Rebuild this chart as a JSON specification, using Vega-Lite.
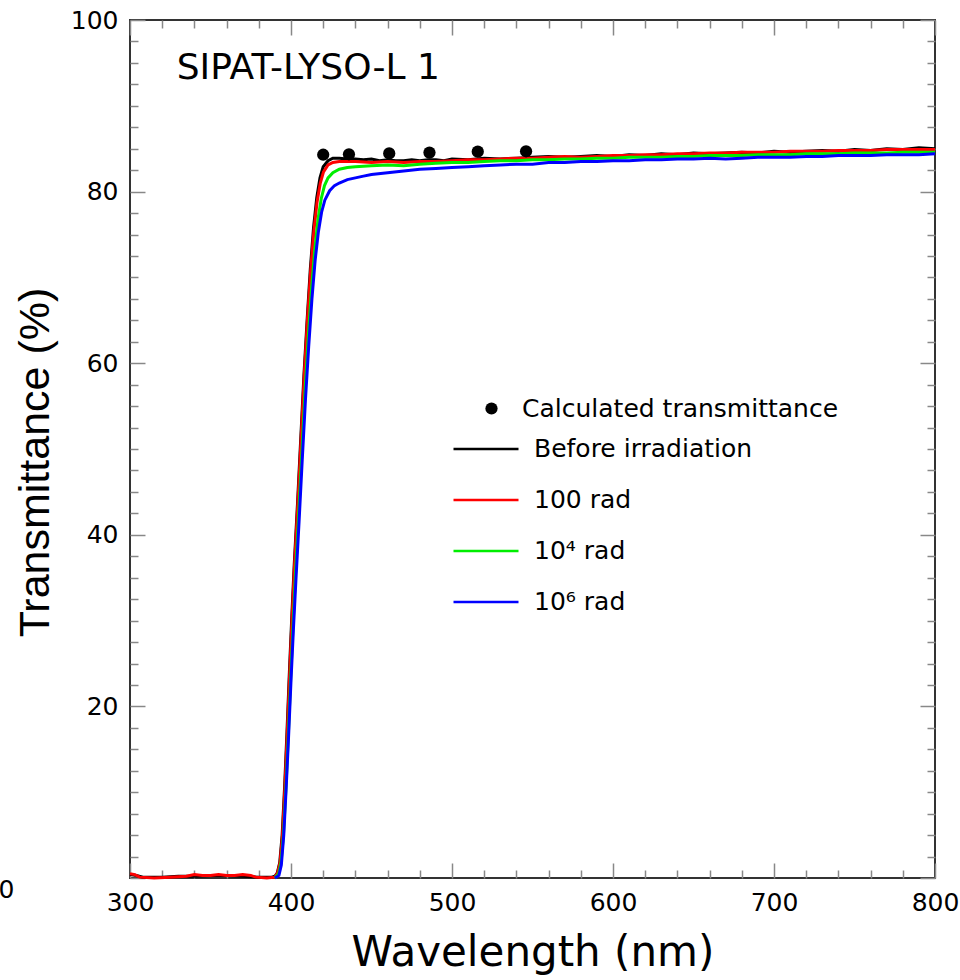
{
  "$schema": "https://vega.github.io/schema/vega-lite/v6.json",
  "width": 805,
  "height": 858,
  "autosize": {"type": "none"},
  "padding": {"left": 130, "top": 20, "right": 25, "bottom": 102},
  "background": "white",
  "config": {
    "font": "DejaVu Sans",
    "view": {"stroke": "#333", "strokeWidth": 2},
    "axis": {"grid": false, "domain": false, "tickColor": "#888", "tickWidth": 1.5, "labelFont": "DejaVu Sans", "labelFontSize": 25, "labelColor": "#000", "labelFlush": false, "labelOverlap": false, "titleColor": "#000", "titleFontWeight": "normal"},
    "legend": {"labelFont": "DejaVu Sans", "labelFontSize": 25, "labelColor": "#000", "labelLimit": 0, "padding": 0}
  },
  "datasets": {
    "lines": [
      {"s":"Before irradiation","w":300,"t":0.4},{"s":"Before irradiation","w":304,"t":0.3},{"s":"Before irradiation","w":308,"t":0.1},{"s":"Before irradiation","w":312,"t":0.1},{"s":"Before irradiation","w":320,"t":0.1},{"s":"Before irradiation","w":330,"t":0.2},{"s":"Before irradiation","w":340,"t":0.2},{"s":"Before irradiation","w":350,"t":0.3},{"s":"Before irradiation","w":360,"t":0.3},{"s":"Before irradiation","w":370,"t":0.2},{"s":"Before irradiation","w":380,"t":0.1},{"s":"Before irradiation","w":388,"t":0.1},{"s":"Before irradiation","w":390,"t":0.2},{"s":"Before irradiation","w":391.5,"t":0.6},{"s":"Before irradiation","w":393,"t":1.8},{"s":"Before irradiation","w":394.5,"t":5},{"s":"Before irradiation","w":396,"t":10.5},{"s":"Before irradiation","w":397.5,"t":17},{"s":"Before irradiation","w":399,"t":24},{"s":"Before irradiation","w":400.5,"t":30.5},{"s":"Before irradiation","w":402,"t":36.5},{"s":"Before irradiation","w":404,"t":43.5},{"s":"Before irradiation","w":406,"t":51},{"s":"Before irradiation","w":408,"t":58.5},{"s":"Before irradiation","w":410,"t":65},{"s":"Before irradiation","w":412,"t":71},{"s":"Before irradiation","w":414,"t":75.8},{"s":"Before irradiation","w":416,"t":79.3},{"s":"Before irradiation","w":418,"t":81.6},{"s":"Before irradiation","w":420,"t":82.9},{"s":"Before irradiation","w":423,"t":83.6},{"s":"Before irradiation","w":426,"t":83.9},{"s":"Before irradiation","w":430,"t":83.9},{"s":"Before irradiation","w":435,"t":83.8},{"s":"Before irradiation","w":440,"t":83.8},{"s":"Before irradiation","w":445,"t":83.7},{"s":"Before irradiation","w":450,"t":83.8},{"s":"Before irradiation","w":455,"t":83.6},{"s":"Before irradiation","w":460,"t":83.7},{"s":"Before irradiation","w":465,"t":83.6},{"s":"Before irradiation","w":470,"t":83.6},{"s":"Before irradiation","w":475,"t":83.7},{"s":"Before irradiation","w":480,"t":83.6},{"s":"Before irradiation","w":485,"t":83.7},{"s":"Before irradiation","w":490,"t":83.7},{"s":"Before irradiation","w":495,"t":83.6},{"s":"Before irradiation","w":500,"t":83.8},{"s":"Before irradiation","w":510,"t":83.7},{"s":"Before irradiation","w":520,"t":83.9},{"s":"Before irradiation","w":530,"t":83.8},{"s":"Before irradiation","w":540,"t":83.9},{"s":"Before irradiation","w":550,"t":84.0},{"s":"Before irradiation","w":560,"t":84.1},{"s":"Before irradiation","w":570,"t":84.0},{"s":"Before irradiation","w":580,"t":84.1},{"s":"Before irradiation","w":590,"t":84.2},{"s":"Before irradiation","w":600,"t":84.1},{"s":"Before irradiation","w":610,"t":84.3},{"s":"Before irradiation","w":620,"t":84.2},{"s":"Before irradiation","w":630,"t":84.4},{"s":"Before irradiation","w":640,"t":84.3},{"s":"Before irradiation","w":650,"t":84.5},{"s":"Before irradiation","w":660,"t":84.4},{"s":"Before irradiation","w":670,"t":84.5},{"s":"Before irradiation","w":680,"t":84.6},{"s":"Before irradiation","w":690,"t":84.5},{"s":"Before irradiation","w":700,"t":84.7},{"s":"Before irradiation","w":710,"t":84.6},{"s":"Before irradiation","w":720,"t":84.7},{"s":"Before irradiation","w":730,"t":84.8},{"s":"Before irradiation","w":740,"t":84.7},{"s":"Before irradiation","w":750,"t":84.9},{"s":"Before irradiation","w":760,"t":84.8},{"s":"Before irradiation","w":770,"t":85.0},{"s":"Before irradiation","w":780,"t":84.9},{"s":"Before irradiation","w":790,"t":85.1},{"s":"Before irradiation","w":800,"t":85.0},

      {"s":"100 rad","w":300,"t":0.5},{"s":"100 rad","w":303,"t":0.4},{"s":"100 rad","w":306,"t":0.1},{"s":"100 rad","w":315,"t":0.0},{"s":"100 rad","w":325,"t":0.1},{"s":"100 rad","w":335,"t":0.2},{"s":"100 rad","w":340,"t":0.4},{"s":"100 rad","w":345,"t":0.3},{"s":"100 rad","w":350,"t":0.3},{"s":"100 rad","w":355,"t":0.4},{"s":"100 rad","w":360,"t":0.3},{"s":"100 rad","w":365,"t":0.3},{"s":"100 rad","w":370,"t":0.4},{"s":"100 rad","w":375,"t":0.3},{"s":"100 rad","w":378,"t":0.1},{"s":"100 rad","w":385,"t":0.0},{"s":"100 rad","w":390,"t":0.1},{"s":"100 rad","w":391.7,"t":0.6},{"s":"100 rad","w":393.2,"t":1.8},{"s":"100 rad","w":394.7,"t":5},{"s":"100 rad","w":396.2,"t":10.5},{"s":"100 rad","w":397.7,"t":17},{"s":"100 rad","w":399.2,"t":24},{"s":"100 rad","w":400.7,"t":30.5},{"s":"100 rad","w":402.2,"t":36.5},{"s":"100 rad","w":404.2,"t":43.5},{"s":"100 rad","w":406.2,"t":51},{"s":"100 rad","w":408.2,"t":58.5},{"s":"100 rad","w":410.2,"t":65},{"s":"100 rad","w":412.2,"t":70.8},{"s":"100 rad","w":414.2,"t":75.4},{"s":"100 rad","w":416.2,"t":78.8},{"s":"100 rad","w":418.2,"t":81.0},{"s":"100 rad","w":420.2,"t":82.3},{"s":"100 rad","w":423,"t":83.1},{"s":"100 rad","w":426,"t":83.4},{"s":"100 rad","w":430,"t":83.5},{"s":"100 rad","w":440,"t":83.5},{"s":"100 rad","w":450,"t":83.4},{"s":"100 rad","w":460,"t":83.5},{"s":"100 rad","w":470,"t":83.4},{"s":"100 rad","w":480,"t":83.5},{"s":"100 rad","w":490,"t":83.5},{"s":"100 rad","w":500,"t":83.6},{"s":"100 rad","w":510,"t":83.7},{"s":"100 rad","w":520,"t":83.7},{"s":"100 rad","w":530,"t":83.8},{"s":"100 rad","w":540,"t":83.9},{"s":"100 rad","w":550,"t":83.9},{"s":"100 rad","w":560,"t":84.0},{"s":"100 rad","w":570,"t":84.1},{"s":"100 rad","w":580,"t":84.0},{"s":"100 rad","w":590,"t":84.1},{"s":"100 rad","w":600,"t":84.2},{"s":"100 rad","w":610,"t":84.2},{"s":"100 rad","w":620,"t":84.3},{"s":"100 rad","w":630,"t":84.3},{"s":"100 rad","w":640,"t":84.4},{"s":"100 rad","w":650,"t":84.4},{"s":"100 rad","w":660,"t":84.5},{"s":"100 rad","w":670,"t":84.5},{"s":"100 rad","w":680,"t":84.6},{"s":"100 rad","w":690,"t":84.6},{"s":"100 rad","w":700,"t":84.6},{"s":"100 rad","w":710,"t":84.7},{"s":"100 rad","w":720,"t":84.7},{"s":"100 rad","w":730,"t":84.7},{"s":"100 rad","w":740,"t":84.8},{"s":"100 rad","w":750,"t":84.8},{"s":"100 rad","w":760,"t":84.8},{"s":"100 rad","w":770,"t":84.9},{"s":"100 rad","w":780,"t":84.9},{"s":"100 rad","w":790,"t":84.9},{"s":"100 rad","w":800,"t":84.9},

      {"s":"10⁴ rad","w":390,"t":0.0},{"s":"10⁴ rad","w":392.3,"t":0.5},{"s":"10⁴ rad","w":393.8,"t":1.8},{"s":"10⁴ rad","w":395.3,"t":5},{"s":"10⁴ rad","w":396.8,"t":10.3},{"s":"10⁴ rad","w":398.3,"t":16.5},{"s":"10⁴ rad","w":399.8,"t":23.3},{"s":"10⁴ rad","w":401.3,"t":29.6},{"s":"10⁴ rad","w":402.8,"t":35.5},{"s":"10⁴ rad","w":404.8,"t":42.5},{"s":"10⁴ rad","w":406.8,"t":49.8},{"s":"10⁴ rad","w":408.8,"t":57},{"s":"10⁴ rad","w":410.8,"t":63.3},{"s":"10⁴ rad","w":412.8,"t":68.8},{"s":"10⁴ rad","w":414.8,"t":73.3},{"s":"10⁴ rad","w":416.8,"t":76.8},{"s":"10⁴ rad","w":418.8,"t":79.2},{"s":"10⁴ rad","w":420.8,"t":80.7},{"s":"10⁴ rad","w":423,"t":81.6},{"s":"10⁴ rad","w":426,"t":82.2},{"s":"10⁴ rad","w":430,"t":82.6},{"s":"10⁴ rad","w":435,"t":82.8},{"s":"10⁴ rad","w":440,"t":82.9},{"s":"10⁴ rad","w":450,"t":83.0},{"s":"10⁴ rad","w":460,"t":83.1},{"s":"10⁴ rad","w":470,"t":83.0},{"s":"10⁴ rad","w":480,"t":83.2},{"s":"10⁴ rad","w":490,"t":83.3},{"s":"10⁴ rad","w":500,"t":83.4},{"s":"10⁴ rad","w":510,"t":83.4},{"s":"10⁴ rad","w":520,"t":83.5},{"s":"10⁴ rad","w":530,"t":83.6},{"s":"10⁴ rad","w":540,"t":83.6},{"s":"10⁴ rad","w":550,"t":83.7},{"s":"10⁴ rad","w":560,"t":83.7},{"s":"10⁴ rad","w":570,"t":83.8},{"s":"10⁴ rad","w":580,"t":83.8},{"s":"10⁴ rad","w":590,"t":83.9},{"s":"10⁴ rad","w":600,"t":83.9},{"s":"10⁴ rad","w":610,"t":84.0},{"s":"10⁴ rad","w":620,"t":84.0},{"s":"10⁴ rad","w":630,"t":84.0},{"s":"10⁴ rad","w":640,"t":84.1},{"s":"10⁴ rad","w":650,"t":84.1},{"s":"10⁴ rad","w":660,"t":84.2},{"s":"10⁴ rad","w":670,"t":84.2},{"s":"10⁴ rad","w":680,"t":84.2},{"s":"10⁴ rad","w":690,"t":84.3},{"s":"10⁴ rad","w":700,"t":84.3},{"s":"10⁴ rad","w":710,"t":84.3},{"s":"10⁴ rad","w":720,"t":84.4},{"s":"10⁴ rad","w":730,"t":84.4},{"s":"10⁴ rad","w":740,"t":84.4},{"s":"10⁴ rad","w":750,"t":84.5},{"s":"10⁴ rad","w":760,"t":84.5},{"s":"10⁴ rad","w":770,"t":84.5},{"s":"10⁴ rad","w":780,"t":84.6},{"s":"10⁴ rad","w":790,"t":84.6},{"s":"10⁴ rad","w":800,"t":84.6},

      {"s":"10⁶ rad","w":390,"t":0.0},{"s":"10⁶ rad","w":392.5,"t":0.3},{"s":"10⁶ rad","w":394,"t":1.5},{"s":"10⁶ rad","w":395.5,"t":5},{"s":"10⁶ rad","w":397,"t":10.5},{"s":"10⁶ rad","w":398.5,"t":16.5},{"s":"10⁶ rad","w":400,"t":23},{"s":"10⁶ rad","w":401.5,"t":29},{"s":"10⁶ rad","w":403,"t":34.5},{"s":"10⁶ rad","w":405,"t":41.5},{"s":"10⁶ rad","w":407,"t":48.8},{"s":"10⁶ rad","w":409,"t":55.8},{"s":"10⁶ rad","w":411,"t":62},{"s":"10⁶ rad","w":413,"t":67.5},{"s":"10⁶ rad","w":415,"t":72},{"s":"10⁶ rad","w":417,"t":75.3},{"s":"10⁶ rad","w":419,"t":77.6},{"s":"10⁶ rad","w":421,"t":79.0},{"s":"10⁶ rad","w":424,"t":80.1},{"s":"10⁶ rad","w":427,"t":80.7},{"s":"10⁶ rad","w":430,"t":81.0},{"s":"10⁶ rad","w":435,"t":81.4},{"s":"10⁶ rad","w":440,"t":81.6},{"s":"10⁶ rad","w":445,"t":81.8},{"s":"10⁶ rad","w":450,"t":82.0},{"s":"10⁶ rad","w":460,"t":82.2},{"s":"10⁶ rad","w":470,"t":82.4},{"s":"10⁶ rad","w":480,"t":82.6},{"s":"10⁶ rad","w":490,"t":82.7},{"s":"10⁶ rad","w":500,"t":82.8},{"s":"10⁶ rad","w":510,"t":82.9},{"s":"10⁶ rad","w":520,"t":83.0},{"s":"10⁶ rad","w":530,"t":83.1},{"s":"10⁶ rad","w":540,"t":83.2},{"s":"10⁶ rad","w":550,"t":83.2},{"s":"10⁶ rad","w":560,"t":83.4},{"s":"10⁶ rad","w":570,"t":83.4},{"s":"10⁶ rad","w":580,"t":83.5},{"s":"10⁶ rad","w":590,"t":83.5},{"s":"10⁶ rad","w":600,"t":83.6},{"s":"10⁶ rad","w":610,"t":83.6},{"s":"10⁶ rad","w":620,"t":83.7},{"s":"10⁶ rad","w":630,"t":83.7},{"s":"10⁶ rad","w":640,"t":83.8},{"s":"10⁶ rad","w":650,"t":83.8},{"s":"10⁶ rad","w":660,"t":83.9},{"s":"10⁶ rad","w":670,"t":83.8},{"s":"10⁶ rad","w":680,"t":83.9},{"s":"10⁶ rad","w":690,"t":84.0},{"s":"10⁶ rad","w":700,"t":84.0},{"s":"10⁶ rad","w":710,"t":84.0},{"s":"10⁶ rad","w":720,"t":84.1},{"s":"10⁶ rad","w":730,"t":84.1},{"s":"10⁶ rad","w":740,"t":84.2},{"s":"10⁶ rad","w":750,"t":84.2},{"s":"10⁶ rad","w":760,"t":84.2},{"s":"10⁶ rad","w":770,"t":84.3},{"s":"10⁶ rad","w":780,"t":84.3},{"s":"10⁶ rad","w":790,"t":84.3},{"s":"10⁶ rad","w":800,"t":84.4}
    ],
    "calc": [
      {"w":420,"t":84.3},{"w":436,"t":84.35},{"w":461,"t":84.45},{"w":486,"t":84.55},{"w":516,"t":84.65},{"w":546,"t":84.7}
    ],
    "note": [{"label": "SIPAT-LYSO-L 1"}]
  },
  "layer": [
    {
      "data": {"name": "lines"},
      "mark": {"type": "line", "strokeWidth": 3},
      "encoding": {
        "x": {"field": "w", "type": "quantitative", "scale": {"domain": [300, 800], "nice": false, "zero": false},
          "axis": {"orient": "bottom", "values": [300,320,340,360,380,400,420,440,460,480,500,520,540,560,580,600,620,640,660,680,700,720,740,760,780,800],
            "labelExpr": "datum.value % 100 === 0 ? datum.label : ''",
            "tickSize": {"condition": {"test": "datum.value % 100 === 0", "value": -15}, "value": -8},
            "labelPadding": 27,
            "title": "Wavelength (nm)", "titleFont": "DejaVu Sans", "titleFontSize": 42, "titleBaseline": "alphabetic", "titleY": 87}},
        "y": {"field": "t", "type": "quantitative", "scale": {"domain": [0, 100], "nice": false, "zero": false},
          "axis": {"orient": "left", "values": [0,2.5,5,7.5,10,12.5,15,17.5,20,22.5,25,27.5,30,32.5,35,37.5,40,42.5,45,47.5,50,52.5,55,57.5,60,62.5,65,67.5,70,72.5,75,77.5,80,82.5,85,87.5,90,92.5,95,97.5,100],
            "labelExpr": "datum.value % 20 === 0 ? datum.label : ''",
            "tickSize": {"condition": {"test": "datum.value % 20 === 0", "value": -15}, "value": -8},
            "labelPadding": {"condition": {"test": "datum.value === 0", "value": 131}, "value": 27},
            "labelOffset": {"condition": {"test": "datum.value === 0", "value": 11}, "value": 0},
            "title": "Transmittance (%)", "titleFont": "Liberation Sans", "titleFontSize": 43, "titleBaseline": "alphabetic", "titleX": -82, "titleY": 442, "titleAngle": -90}},
        "stroke": {"field": "s", "type": "nominal",
          "scale": {"domain": ["Before irradiation", "100 rad", "10⁴ rad", "10⁶ rad"], "range": ["#000000", "#ff0000", "#00ee00", "#0000ff"]},
          "legend": {"orient": "none", "legendX": 322, "legendY": 416, "title": null, "symbolType": "stroke", "symbolSize": 4225, "symbolStrokeWidth": 2.5, "clipHeight": 26, "rowPadding": 25, "labelOffset": 14}}
      }
    },
    {
      "data": {"name": "calc"},
      "mark": {"type": "point", "filled": true, "size": 150, "color": "#000", "opacity": 1},
      "encoding": {
        "x": {"field": "w", "type": "quantitative",
          "axis": {"orient": "top", "values": [300,320,340,360,380,400,420,440,460,480,500,520,540,560,580,600,620,640,660,680,700,720,740,760,780,800],
            "labels": false, "title": null,
            "tickSize": {"condition": {"test": "datum.value % 100 === 0", "value": -15}, "value": -8}}},
        "y": {"field": "t", "type": "quantitative",
          "axis": {"orient": "right", "values": [0,2.5,5,7.5,10,12.5,15,17.5,20,22.5,25,27.5,30,32.5,35,37.5,40,42.5,45,47.5,50,52.5,55,57.5,60,62.5,65,67.5,70,72.5,75,77.5,80,82.5,85,87.5,90,92.5,95,97.5,100],
            "labels": false, "title": null,
            "tickSize": {"condition": {"test": "datum.value % 20 === 0", "value": -15}, "value": -8}}},
        "shape": {"datum": "Calculated transmittance", "type": "nominal", "scale": {"range": ["circle"]},
          "legend": {"orient": "none", "legendX": 349, "legendY": 376, "title": null, "symbolSize": 150, "symbolFillColor": "#000", "symbolStrokeColor": "#000", "labelOffset": 18}}
      }
    },
    {
      "data": {"name": "note"},
      "mark": {"type": "text", "align": "left", "baseline": "alphabetic", "font": "DejaVu Sans", "fontSize": 36, "color": "#000"},
      "encoding": {
        "x": {"datum": 329, "type": "quantitative", "axis": null},
        "y": {"datum": 93.1, "type": "quantitative", "axis": null},
        "text": {"field": "label"}
      }
    }
  ],
  "resolve": {"axis": {"x": "independent", "y": "independent"}}
}
